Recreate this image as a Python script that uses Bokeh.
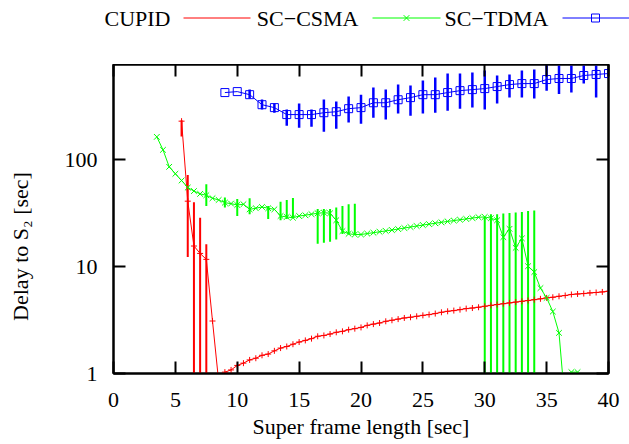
from bokeh.plotting import figure
from bokeh.models import Range1d, FixedTicker, NumeralTickFormatter, LinearAxis, LogAxis
from bokeh.core.properties import value
from bokeh.embed import file_html
from bokeh.resources import INLINE

FONT = "Liberation Serif"
FS = "22px"

# ---------------- data ----------------
x_ticks = [0, 5, 10, 15, 20, 25, 30, 35, 40]
y_ticks = [1, 10, 100]

cupid_x = [5.5, 6.0, 6.5, 7.0, 7.5, 8.0, 8.5, 9.0, 9.5, 10.0, 10.5, 11.0, 11.5, 12.0, 12.5,
           13.0, 13.5, 14.0, 14.5, 15.0, 15.5, 16.0, 16.5, 17.0, 17.5, 18.0, 18.5, 19.0, 19.5,
           20.0, 20.5, 21.0, 21.5, 22.0, 22.5, 23.0, 23.5, 24.0, 24.5, 25.0, 25.5, 26.0, 26.5,
           27.0, 27.5, 28.0, 28.5, 29.0, 29.5, 30.0, 30.5, 31.0, 31.5, 32.0, 32.5, 33.0, 33.5,
           34.0, 34.5, 35.0, 35.5, 36.0, 36.5, 37.0, 37.5, 38.0, 38.5, 39.0, 39.5, 40.0]
cupid_y = [230, 41, 15.6, 13.3, 11.7, 3.1, 0.84, 1.03, 1.08, 1.19, 1.25, 1.34, 1.39, 1.48, 1.52,
           1.63, 1.73, 1.79, 1.88, 1.97, 2.04, 2.12, 2.23, 2.27, 2.34, 2.43, 2.48, 2.57, 2.63,
           2.70, 2.82, 2.90, 2.97, 3.08, 3.15, 3.23, 3.31, 3.36, 3.43, 3.50, 3.56, 3.64, 3.74,
           3.82, 3.88, 3.96, 4.05, 4.10, 4.17, 4.26, 4.34, 4.42, 4.50, 4.58, 4.66, 4.74, 4.82,
           4.91, 5.00, 5.10, 5.17, 5.28, 5.37, 5.49, 5.55, 5.60, 5.68, 5.73, 5.80, 5.89]
cupid_err_x = [5.5, 6.0, 6.5, 7.0, 7.5]
cupid_err_lo = [165, 12.3, 0.1, 0.1, 0.1]
cupid_err_hi = [235, 72, 40, 28.7, 16.2]

csma_x = [3.5, 4.0, 4.5, 5.0, 5.5, 6.0, 6.5, 7.0, 7.5, 8.0, 8.5, 9.0, 9.5, 10.0, 10.5, 11.0,
          11.5, 12.0, 12.5, 13.0, 13.5, 14.0, 14.5, 15.0, 15.5, 16.0, 16.5, 17.0, 17.5, 18.0,
          18.5, 19.0, 19.5, 20.0, 20.5, 21.0, 21.5, 22.0, 22.5, 23.0, 23.5, 24.0, 24.5, 25.0,
          25.5, 26.0, 26.5, 27.0, 27.5, 28.0, 28.5, 29.0, 29.5, 30.0, 30.5, 31.0, 31.5, 32.0,
          32.5, 33.0, 33.5, 34.0, 34.5, 35.0, 35.5, 36.0, 36.5, 37.0, 37.5]
csma_y = [164, 124, 86, 74, 64, 55, 51, 48, 46.6, 43.7, 42.1, 39.7, 38.9, 37.8, 38.4, 34.4,
          35.2, 36.2, 35.2, 34.4, 29.8, 29.2, 28.7, 29.8, 30.3, 31.0, 31.6, 32.0, 31.6, 27.2,
          21.5, 20.3, 20.0, 20.0, 20.4, 20.8, 21.2, 21.6, 22.0, 22.5, 23.0, 23.5, 24.0, 24.5,
          25.0, 25.5, 26.0, 26.5, 27.0, 27.5, 28.0, 28.5, 29.0, 29.2, 28.4, 27.2, 18.9, 22.6,
          15.0, 18.4, 10.1, 8.9, 6.3, 5.1, 3.8, 2.4, 0.5, 1.03, 1.03]
csma_err_x = [7.5, 9.0, 10.0, 11.0, 12.5, 13.5, 14.0, 14.5, 16.5, 17.0, 17.5, 18.0, 18.5,
              19.0, 19.5, 30.0, 30.5, 31.0, 31.5, 32.0, 32.5, 33.0, 33.5, 34.0]
csma_err_lo = [37.0, 35.7, 29.8, 30.9, 27.9, 27.2, 27.9, 28.5, 16.4, 16.7, 17.1, 18.0, 20.2,
               20.0, 20.0, 0.1, 0.1, 0.1, 0.1, 0.1, 0.1, 0.1, 0.1, 0.1]
csma_err_hi = [59.1, 44.3, 43.0, 43.7, 37.0, 40.6, 42.1, 44.0, 34.7, 34.7, 34.7, 35.7, 37.0,
               38.4, 38.9, 29.2, 30.9, 30.9, 31.4, 31.7, 32.2, 32.5, 33.2, 33.6]

tdma_x = [9, 10, 11, 12, 13, 14, 15, 16, 17, 18, 19, 20, 21, 22, 23, 24, 25, 26, 27, 28,
          29, 30, 31, 32, 33, 34, 35, 36, 37, 38, 39, 40]
tdma_y = [426, 435, 407, 328, 308, 265, 265, 265, 276, 282, 301, 308, 342, 342, 365, 382,
          407, 407, 426, 444, 454, 464, 485, 506, 517, 517, 564, 577, 577, 615, 629, 642]
tdma_err_lo = [426, 435, 374, 295, 276, 208, 200, 204, 183, 195, 223, 218, 248, 238, 271, 259,
               271, 276, 288, 301, 308, 295, 336, 382, 382, 374, 444, 414, 426, 517, 382, 577]
tdma_err_hi = [426, 435, 454, 366, 336, 295, 336, 295, 366, 351, 391, 407, 474, 454, 506, 495,
               552, 589, 642, 642, 656, 685, 615, 629, 685, 700, 796, 763, 763, 763, 763, 715]

series_names = ["CUPID", "SC\u2212CSMA", "SC\u2212TDMA"]
RED, GREEN, BLUE = "#ff0000", "#00ff00", "#0000ff"

# ---------------- key strip (gnuplot style: title, then sample) ----------------
KW, KH = 629, 64
key = figure(width=KW, height=KH, x_range=Range1d(0, KW), y_range=Range1d(KH, 0),
             output_backend="svg", toolbar_location=None,
             min_border_left=0, min_border_right=0, min_border_top=0, min_border_bottom=0,
             x_axis_location=None, y_axis_location=None)
key.grid.visible = False
key.outline_line_color = None
title_right = [170, 358, 548]
sample_x0 = [183, 372, 562]
sample_x1 = [250, 440, 629]
ky = 17.5
key.text(x=title_right, y=[ky] * 3, text=series_names, text_align="right",
         text_baseline="middle", text_font=value(FONT), text_font_size=FS, text_color="black")
key.segment(x0=sample_x0, y0=[ky] * 3, x1=sample_x1, y1=[ky] * 3,
            line_color=[RED, GREEN, BLUE], line_width=1)
key.scatter(x=[(sample_x0[1] + sample_x1[1]) / 2], y=[ky], marker="x", size=8,
            line_color=GREEN, line_width=1)
key.scatter(x=[595], y=[ky], marker="square", size=8,
            line_color=BLUE, fill_color=None, line_width=1)

# ---------------- main plot ----------------
p = figure(width=629, height=380, x_range=Range1d(0, 40), y_range=Range1d(1, 780),
           y_axis_type="log", output_backend="svg", toolbar_location=None,
           min_border_left=113, min_border_right=21, min_border_top=0, min_border_bottom=71)
p.grid.visible = False
p.outline_line_color = "black"
p.outline_line_width = 2

# error bars
p.segment(x0=cupid_err_x, y0=cupid_err_lo, x1=cupid_err_x, y1=cupid_err_hi,
          line_color=RED, line_width=2)
p.segment(x0=csma_err_x, y0=csma_err_lo, x1=csma_err_x, y1=csma_err_hi,
          line_color=GREEN, line_width=2)
p.segment(x0=tdma_x, y0=tdma_err_lo, x1=tdma_x, y1=tdma_err_hi,
          line_color=BLUE, line_width=2.5)

# lines + markers
p.line(cupid_x, cupid_y, line_color=RED, line_width=1)
p.scatter(cupid_x, cupid_y, marker="cross", size=6, line_color=RED, line_width=1)
p.line(csma_x, csma_y, line_color=GREEN, line_width=1)
p.scatter(csma_x, csma_y, marker="x", size=8, line_color=GREEN, line_width=1)
p.line(tdma_x, tdma_y, line_color=BLUE, line_width=1)
p.scatter(tdma_x, tdma_y, marker="square", size=8, line_color=BLUE, fill_color=None,
          line_width=1)


def style(ax):
    ax.axis_line_width = 2
    ax.axis_line_color = "black"
    ax.major_tick_in = 12
    ax.major_tick_out = 0
    ax.major_tick_line_width = 2
    ax.major_tick_line_color = "black"
    ax.minor_tick_line_color = None
    ax.major_label_text_font = FONT
    ax.major_label_text_color = "black"
    ax.major_label_text_font_size = FS


p.xaxis.ticker = FixedTicker(ticks=x_ticks, minor_ticks=[])
p.yaxis.ticker = FixedTicker(ticks=y_ticks, minor_ticks=[])
p.yaxis.formatter = NumeralTickFormatter(format="0")
style(p.xaxis[0])
style(p.yaxis[0])
p.xaxis.major_label_standoff = 19
p.yaxis.major_label_standoff = 16
p.xaxis.axis_label = "Super frame length [sec]"
# trailing no-break spaces move the rotated title down, as gnuplot places it
p.yaxis.axis_label = "Delay to S\u2082 [sec]" + "\u00a0" * 10
for ax in (p.xaxis[0], p.yaxis[0]):
    ax.axis_label_text_font = FONT
    ax.axis_label_text_font_size = FS
    ax.axis_label_text_font_style = "normal"
    ax.axis_label_text_color = "black"
p.xaxis.axis_label_standoff = 4
p.yaxis.axis_label_standoff = 29

top = LinearAxis(ticker=FixedTicker(ticks=x_ticks, minor_ticks=[]))
style(top)
top.major_label_overrides = {t: "" for t in x_ticks}
top.major_label_text_font_size = "1px"
top.major_label_standoff = 0
p.add_layout(top, "above")
right = LogAxis(ticker=FixedTicker(ticks=y_ticks, minor_ticks=[]))
style(right)
right.major_label_overrides = {t: "" for t in y_ticks}
right.major_label_text_font_size = "1px"
right.major_label_standoff = 0
p.add_layout(right, "right")

open("out.html", "w").write(file_html([key, p], INLINE))
